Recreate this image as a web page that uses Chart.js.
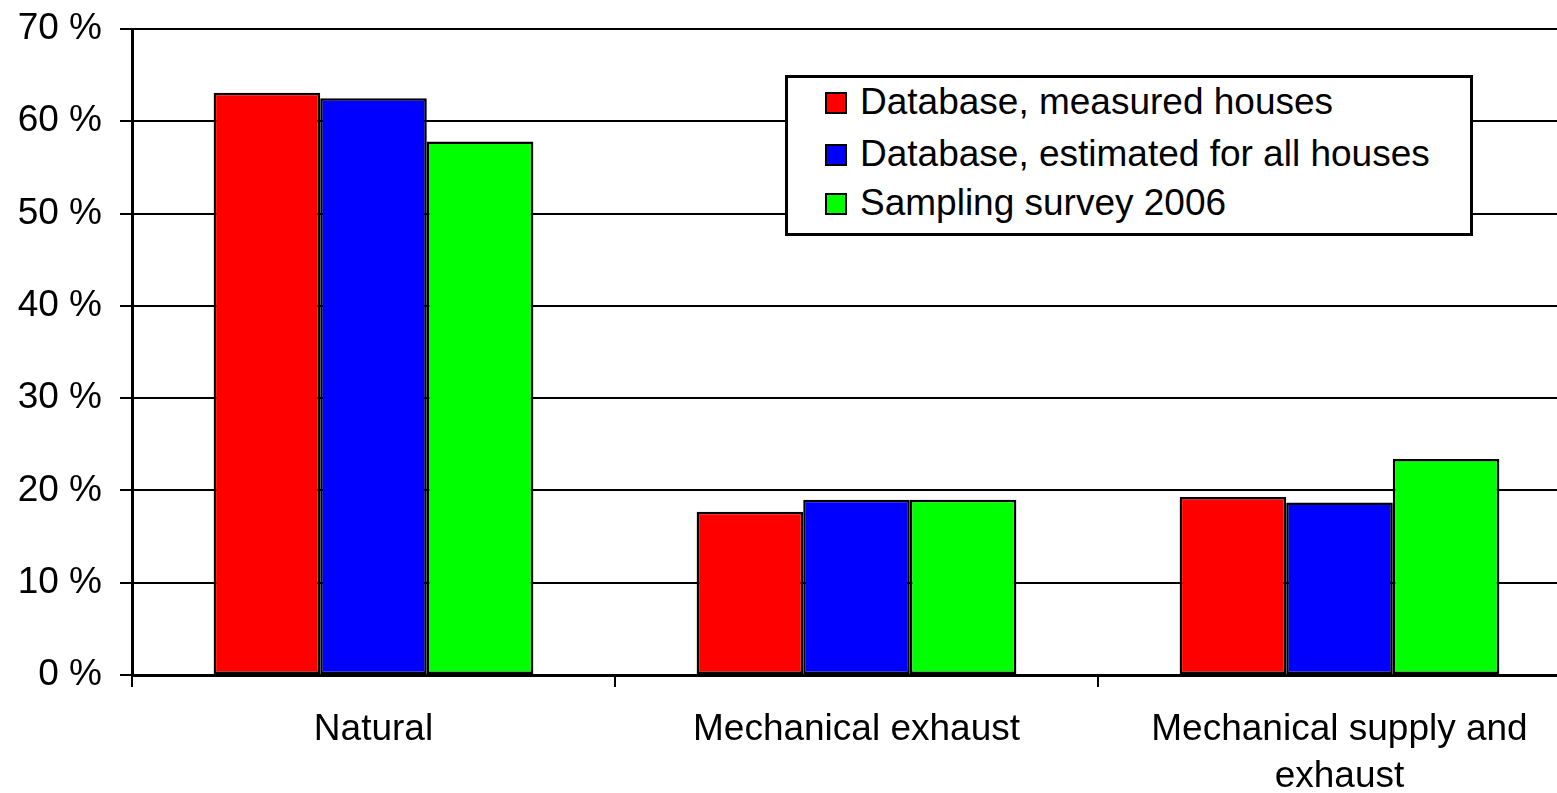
<!DOCTYPE html>
<html>
<head>
<meta charset="utf-8">
<script src="https://cdn.jsdelivr.net/npm/chart.js@4/dist/chart.umd.min.js"></script>
<style>
  html, body { margin: 0; padding: 0; background: #fff; overflow: hidden; }
  #wrap { position: relative; width: 1581px; height: 793px; }
  #legend {
    position: absolute; left: 785px; top: 75px; width: 688px; height: 161px;
    box-sizing: border-box; border: 3px solid #000; background: #fff;
    font-family: "Liberation Sans", Arial, sans-serif; font-size: 37px; color: #000;
  }
  .item { position: absolute; left: 37px; height: 40px; line-height: 40px; white-space: nowrap; }
  .sw { position: absolute; left: 0; top: 10px; width: 22px; height: 22px; box-sizing: border-box; border: 2px solid #000; }
  .lbl { position: absolute; left: 35px; top: 0; }
</style>
</head>
<body>
<div id="wrap">
  <canvas id="chart" width="1581" height="793"></canvas>
  <div id="legend"></div>
</div>
<script>
// Ventilation system categories
const categories = ['Natural', 'Mechanical exhaust', ['Mechanical supply and', 'exhaust']];

// Share of houses per ventilation type (%)
const measuredHouses = [63.1, 17.7, 19.3];
const estimatedAllHouses = [62.5, 19.0, 18.7];
const samplingSurvey2006 = [57.8, 19.0, 23.4];

const seriesNames = ['Database, measured houses', 'Database, estimated for all houses', 'Sampling survey 2006'];
const seriesColors = ['#ff0000', '#0000ff', '#00ff00'];

// Axis range and tick step
const yMin = 0, yMax = 70, yStep = 10;

const FONT = '"Liberation Sans", Arial, sans-serif';

const datasets = [measuredHouses, estimatedAllHouses, samplingSurvey2006].map((values, i) => ({
  label: seriesNames[i],
  data: values,
  backgroundColor: seriesColors[i],
  borderColor: '#000',
  borderWidth: 2.5,
  borderSkipped: false,
  categoryPercentage: 0.662,
  barPercentage: 1.0
}));

new Chart(document.getElementById('chart'), {
  type: 'bar',
  data: { labels: categories, datasets },
  options: {
    responsive: false,
    animation: false,
    layout: { padding: { top: 29, left: 0, right: 0, bottom: 0 } },
    plugins: { legend: { display: false }, tooltip: { enabled: false } },
    scales: {
      x: {
        grid: { drawOnChartArea: false, offset: true, color: '#000', lineWidth: 2, tickLength: 12 },
        border: { color: '#000', width: 3 },
        ticks: {
          color: '#000', padding: 19, maxRotation: 0, autoSkip: false,
          font: { family: FONT, size: 37, lineHeight: 1.27 }
        },
        afterFit: (s) => { s.height = 118; s.paddingLeft = 0; s.paddingRight = 0; }
      },
      y: {
        min: yMin, max: yMax,
        grid: { color: '#000', lineWidth: 2, tickLength: 12 },
        border: { color: '#000', width: 3 },
        ticks: {
          stepSize: yStep, color: '#000', padding: 18,
          font: { family: FONT, size: 37 },
          callback: (v) => v + ' %'
        },
        afterFit: (s) => { s.width = 132; s.paddingTop = 0; s.paddingBottom = 0; }
      }
    }
  }
});

// Boxed legend inside the plot area
const legend = document.getElementById('legend');
const rowTops = [4, 56, 105];
seriesNames.forEach((name, i) => {
  const item = document.createElement('div');
  item.className = 'item';
  item.style.top = rowTops[i] + 'px';
  const sw = document.createElement('span');
  sw.className = 'sw';
  sw.style.background = seriesColors[i];
  const lbl = document.createElement('span');
  lbl.className = 'lbl';
  lbl.textContent = name;
  item.appendChild(sw);
  item.appendChild(lbl);
  legend.appendChild(item);
});
</script>
</body>
</html>
